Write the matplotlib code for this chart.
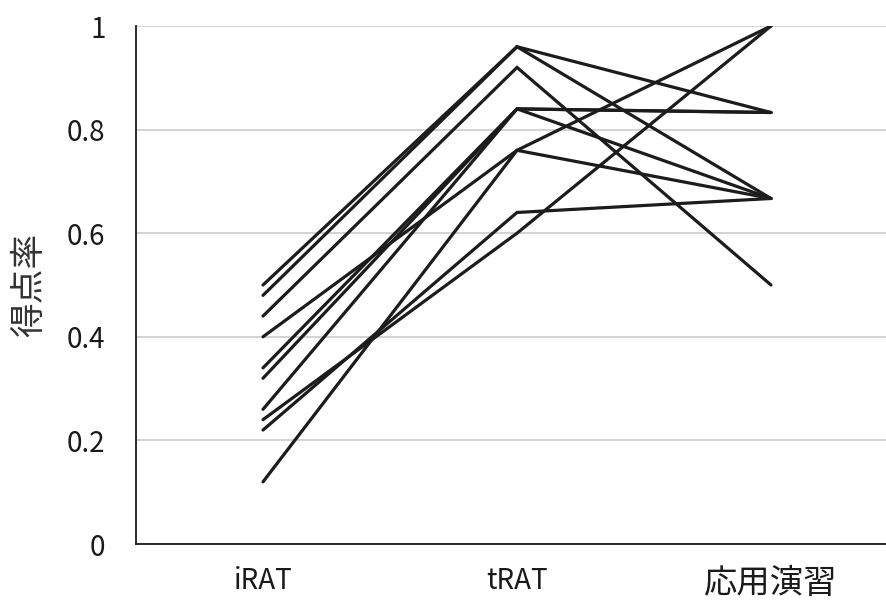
import matplotlib
matplotlib.use("Agg")
import matplotlib.pyplot as plt

plt.rcParams['font.family'] = ['Noto Sans CJK JP', 'DejaVu Sans']

categories = ["iRAT", "tRAT", "応用演習"]
irat = [0.50, 0.48, 0.44, 0.40, 0.34, 0.32, 0.26, 0.24, 0.22, 0.12]
trat = [0.96, 0.96, 0.92, 0.76, 0.84, 0.84, 0.84, 0.60, 0.64, 0.76]
app = [0.833, 0.667, 0.50, 0.667, 0.833, 0.833, 0.667, 1.0, 0.667, 1.0]
yticks = [0, 0.2, 0.4, 0.6, 0.8, 1.0]
ytick_labels = ["0", "0.2", "0.4", "0.6", "0.8", "1"]

fig = plt.figure(figsize=(8.87, 6.03), dpi=100)
ax = fig.add_axes([136/887, 59/603, 762/887, 518/603])

x = list(range(len(categories)))
for a, b, c in zip(irat, trat, app):
    ax.plot(x, [a, b, c], color="#1c1c1c", lw=2.3, solid_capstyle="round",
            solid_joinstyle="miter", zorder=3)

ax.set_xlim(-0.5, 2.5)
ax.set_ylim(0, 1)
ax.set_yticks(yticks)
ax.set_yticklabels(ytick_labels, fontsize=20, color="#1a1a1a")
ax.set_xticks(x)
ax.set_xticklabels(categories, fontsize=20, color="#1a1a1a")
for lbl in ax.get_xticklabels():
    if lbl.get_text() == "応用演習":
        lbl.set_fontsize(24)
ax.tick_params(axis="y", length=0, pad=22)
ax.tick_params(axis="x", length=0, pad=16)
ax.yaxis.grid(True, color="#d0d0d0", lw=1.3)
ax.set_axisbelow(True)
for s in ["top", "right"]:
    ax.spines[s].set_visible(False)
for s in ["left", "bottom"]:
    ax.spines[s].set_color("#1a1a1a")
    ax.spines[s].set_linewidth(1.3)
ax.set_ylabel("得点率", fontsize=25, color="#333333", labelpad=14)

fig.savefig("out.png", dpi=100)
